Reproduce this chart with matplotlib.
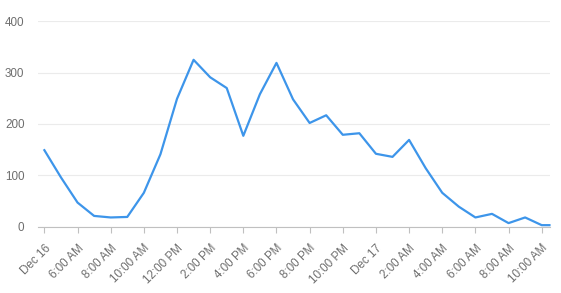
import matplotlib
matplotlib.use("Agg")
import matplotlib.pyplot as plt
import pandas as pd

# почасовые значения, 16 дек 04:00 -> 17 дек 10:00 (+ хвост до 10:30)
values = [149, 96, 47, 21, 18, 19, 66, 141, 249, 325, 291, 270, 177, 258, 319,
          248, 202, 217, 179, 182, 142, 136, 169, 114, 66, 39, 18, 25, 7, 18, 3, 3]
times = list(pd.date_range("2023-12-16 04:00", periods=31, freq="h")) + [pd.Timestamp("2023-12-17 10:28")]

tick_times = pd.date_range("2023-12-16 04:00", periods=16, freq="2h")
tick_labels = ["Dec 16", "6:00 AM", "8:00 AM", "10:00 AM", "12:00 PM", "2:00 PM",
               "4:00 PM", "6:00 PM", "8:00 PM", "10:00 PM", "Dec 17", "2:00 AM",
               "4:00 AM", "6:00 AM", "8:00 AM", "10:00 AM"]
y_ticks = [0, 100, 200, 300, 400]

plt.rcParams['font.family'] = ['Liberation Sans', 'DejaVu Sans']

fig = plt.figure(figsize=(5.61, 2.93), dpi=100)
ax = fig.add_axes([38.3 / 561, 66.3 / 293, (550 - 38.3) / 561, (226.7 - 21.3) / 293])

ax.plot(times, values, color="#3d95ea", linewidth=1.6, clip_on=False, zorder=3)

ax.set_ylim(0, 400)
ax.set_xlim(pd.Timestamp("2023-12-16 03:38"), pd.Timestamp("2023-12-17 10:30"))
ax.set_yticks(y_ticks)
ax.set_yticklabels([str(v) for v in y_ticks])
ax.set_xticks(tick_times)
ax.set_xticklabels(tick_labels, rotation=45, ha="right", va="top", rotation_mode="anchor")

ax.grid(axis="y", color="#ebebeb", linewidth=0.8)
ax.set_axisbelow(True)
for side in ["top", "right", "left"]:
    ax.spines[side].set_visible(False)
ax.spines["bottom"].set_color("#c0c0c0")
ax.spines["bottom"].set_linewidth(0.8)

ax.tick_params(axis="y", length=0, pad=10, labelsize=8.4, labelcolor="#6e6e6e")
ax.tick_params(axis="x", length=4, width=0.8, color="#c0c0c0", pad=7,
               labelsize=8.4, labelcolor="#6e6e6e")

fig.savefig("out.png", dpi=100)
